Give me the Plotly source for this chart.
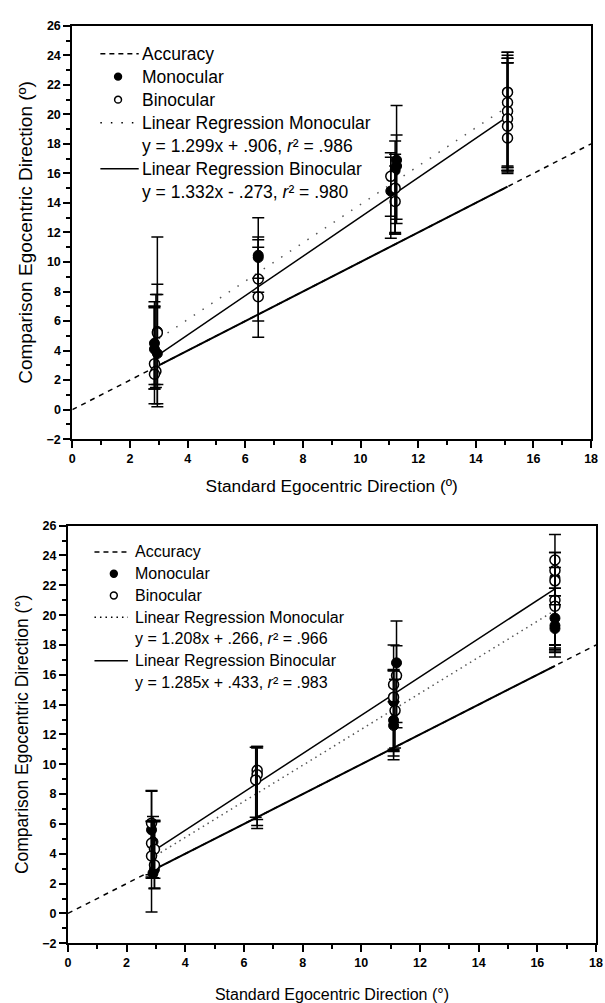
import plotly.graph_objects as go

W, H = 605, 1003

# ---------------- data: top panel ----------------
top_mono_x = [2.95, 2.85, 2.85, 2.95, 6.45, 6.45, 11.25, 11.25, 11.2, 11.05, 15.1, 15.1]
top_mono_y = [5.3, 4.5, 4.1, 3.8, 10.45, 10.3, 16.9, 16.5, 16.2, 14.8, 21.5, 20.2]
top_mono_err_plus = [3.2, 2.8, 2.9, 4.0, 2.55, 1.4, 3.7, 2.1, 2.0, 2.6, 2.7, 3.6]
top_mono_err_minus = [3.6, 3.1, 2.7, 3.4, 2.5, 1.4, 4.0, 3.9, 4.2, 3.2, 5.4, 3.8]

top_bino_x = [2.95, 2.85, 2.9, 2.85, 6.45, 6.45, 11.05, 11.2, 11.2, 15.1, 15.1, 15.1, 15.1, 15.1, 15.1]
top_bino_y = [5.2, 3.1, 2.6, 2.4, 8.85, 7.65, 15.8, 15.0, 14.1, 21.5, 20.8, 20.2, 19.7, 19.2, 18.4]
top_bino_err_plus = [6.5, 3.8, 5.2, 4.6, 2.65, 3.35, 1.3, 2.3, 2.4, 2.7, 3.2, 3.6, 3.8, 4.3, 5.1]
top_bino_err_minus = [5.0, 1.4, 1.1, 2.0, 2.85, 2.75, 2.7, 3.1, 2.2, 5.5, 4.6, 3.7, 3.5, 3.0, 2.0]

top_mono_slope, top_mono_intercept = 1.299, 0.906
top_bino_slope, top_bino_intercept = 1.332, -0.273
top_fit_x = [3.0, 15.1]
top_eq_mono = "y = 1.299x + .906, <i>r</i>² = .986"
top_eq_bino = "y = 1.332x - .273, <i>r</i>² = .980"

# ---------------- data: bottom panel ----------------
bot_mono_x = [2.85, 2.9, 2.95, 2.9, 6.45, 11.2, 11.1, 11.1, 11.1, 16.6, 16.6, 16.6, 16.6]
bot_mono_y = [5.6, 4.8, 2.95, 2.7, 9.4, 16.8, 14.2, 12.95, 12.6, 22.5, 19.8, 19.3, 19.1]
bot_mono_err_plus = [2.6, 1.7, 3.3, 3.5, 1.8, 2.8, 3.8, 3.3, 1.6, 1.7, 1.5, 2.0, 1.6]
bot_mono_err_minus = [5.5, 2.4, 1.3, 0.3, 3.5, 4.0, 3.9, 2.4, 1.6, 4.5, 2.2, 1.3, 1.6]

bot_bino_x = [2.85, 2.85, 2.95, 2.85, 2.95, 6.45, 6.45, 6.4, 11.2, 11.1, 11.1, 11.15,
              16.6, 16.6, 16.6, 16.6, 16.6]
bot_bino_y = [6.05, 4.7, 4.3, 3.85, 3.25, 9.6, 9.3, 8.95, 15.95, 15.35, 14.5, 13.6,
              23.7, 23.0, 22.3, 21.0, 20.6]
bot_bino_err_plus = [2.2, 1.5, 1.9, 2.3, 2.9, 1.6, 1.8, 2.2, 2.0, 1.0, 1.8, 2.1,
                     1.7, 1.2, 0.9, 0.8, 1.2]
bot_bino_err_minus = [3.6, 2.1, 2.6, 1.5, 0.9, 3.9, 3.0, 2.5, 3.5, 4.5, 3.6, 2.5,
                      6.5, 5.3, 4.5, 3.0, 2.6]

bot_mono_slope, bot_mono_intercept = 1.208, 0.266
bot_bino_slope, bot_bino_intercept = 1.285, 0.433
bot_fit_x = [3.0, 16.6]
bot_eq_mono = "y = 1.208x + .266, <i>r</i>² = .966"
bot_eq_bino = "y = 1.285x + .433, <i>r</i>² = .983"

accuracy_x = [0, 18]
x_range = [0, 18]
y_range = [-2, 26]

FONT = "Liberation Sans, Arial, sans-serif"

fig = go.Figure()


def add_panel(xa, ya, mono_x, mono_y, mp, mm, bino_x, bino_y, bp, bm,
              ms, mi, bs, bi, fit_x, dot_dash):
    # accuracy (dashed, full range)
    fig.add_trace(go.Scatter(x=accuracy_x, y=accuracy_x, mode="lines",
                             line=dict(color="black", width=1.5, dash="5px,5px"),
                             xaxis=xa, yaxis=ya, showlegend=False, hoverinfo="skip"))
    # accuracy solid segment over data range
    fig.add_trace(go.Scatter(x=fit_x, y=fit_x, mode="lines",
                             line=dict(color="black", width=2),
                             xaxis=xa, yaxis=ya, showlegend=False, hoverinfo="skip"))
    # regression monocular (dotted)
    fig.add_trace(go.Scatter(x=fit_x, y=[ms * v + mi for v in fit_x], mode="lines",
                             line=dict(color="#555555", width=1.5, dash=dot_dash),
                             xaxis=xa, yaxis=ya, showlegend=False, hoverinfo="skip"))
    # regression binocular (solid)
    fig.add_trace(go.Scatter(x=fit_x, y=[bs * v + bi for v in fit_x], mode="lines",
                             line=dict(color="black", width=1.5),
                             xaxis=xa, yaxis=ya, showlegend=False, hoverinfo="skip"))
    # monocular markers
    fig.add_trace(go.Scatter(x=mono_x, y=mono_y, mode="markers",
                             marker=dict(symbol="circle", size=10, color="black",
                                         line=dict(color="black", width=1)),
                             xaxis=xa, yaxis=ya, showlegend=False))
    # binocular markers
    fig.add_trace(go.Scatter(x=bino_x, y=bino_y, mode="markers",
                             marker=dict(symbol="circle", size=10, color="white",
                                         line=dict(color="black", width=1.5)),
                             xaxis=xa, yaxis=ya, showlegend=False))
    # error bars drawn on top
    for xs, ys, p, m in ((mono_x, mono_y, mp, mm), (bino_x, bino_y, bp, bm)):
        fig.add_trace(go.Scatter(x=xs, y=ys, mode="markers",
                                 marker=dict(size=2, opacity=0),
                                 error_y=dict(type="data", symmetric=False, array=p,
                                              arrayminus=m, color="black",
                                              thickness=1.5, width=6),
                                 xaxis=xa, yaxis=ya, showlegend=False, hoverinfo="skip"))


add_panel("x", "y", top_mono_x, top_mono_y, top_mono_err_plus, top_mono_err_minus,
          top_bino_x, top_bino_y, top_bino_err_plus, top_bino_err_minus,
          top_mono_slope, top_mono_intercept, top_bino_slope, top_bino_intercept,
          top_fit_x, "1.5px,9px")
add_panel("x2", "y2", bot_mono_x, bot_mono_y, bot_mono_err_plus, bot_mono_err_minus,
          bot_bino_x, bot_bino_y, bot_bino_err_plus, bot_bino_err_minus,
          bot_mono_slope, bot_mono_intercept, bot_bino_slope, bot_bino_intercept,
          bot_fit_x, "1.5px,4px")


def px2x(px):
    return px / W


def px2y(py):
    return 1 - py / H


def axis_common(title, title_size, standoff):
    return dict(
        showline=True, linewidth=2, linecolor="black", mirror=True,
        showgrid=False, zeroline=False,
        ticks="outside", ticklen=7, tickwidth=1.5, tickcolor="black",
        minor=dict(ticks="outside", ticklen=4, tickwidth=1.5, dtick=1, tickcolor="black"),
        dtick=2, tick0=0,
        tickfont=dict(family=FONT, size=12.5, color="black", weight="bold"),
        title=dict(text=title, font=dict(family=FONT, size=title_size, color="black"),
                   standoff=standoff),
    )


fig.update_layout(
    width=W, height=H,
    margin=dict(l=0, r=0, t=0, b=0),
    paper_bgcolor="white", plot_bgcolor="white",
    showlegend=False,
    xaxis=dict(domain=[px2x(70.5), px2x(598)], range=x_range, anchor="y",
               **axis_common("Standard Egocentric Direction (º)", 17.3, 15)),
    yaxis=dict(domain=[px2y(438.3), px2y(19)], range=y_range, anchor="x",
               **axis_common("Comparison Egocentric Direction (º)", 19, 9)),
    xaxis2=dict(domain=[px2x(66), px2x(603)], range=x_range, anchor="y2",
                **axis_common("Standard Egocentric Direction (°)", 16, 22)),
    yaxis2=dict(domain=[px2y(949.5), px2y(526)], range=y_range, anchor="x2",
                **axis_common("Comparison Egocentric Direction (°)", 17.5, 9)),
)

# ---------------- legends (drawn in each panel, top-left) ----------------
legend_items_top = [("dash", "Accuracy"), ("filled", "Monocular"), ("open", "Binocular"),
                    ("dot", "Linear Regression Monocular"), (None, top_eq_mono),
                    ("solid", "Linear Regression Binocular"), (None, top_eq_bino)]
legend_items_bot = [("dash", "Accuracy"), ("filled", "Monocular"), ("open", "Binocular"),
                    ("dot", "Linear Regression Monocular"), (None, bot_eq_mono),
                    ("solid", "Linear Regression Binocular"), (None, bot_eq_bino)]


def draw_legend(items, y0, step, text_x, sym_x0, sym_x1, mark_x, fsize, dot_dash):
    for i, (kind, label) in enumerate(items):
        cy = y0 + i * step
        fig.add_annotation(x=px2x(text_x), y=px2y(cy), xref="paper", yref="paper",
                           text=label, showarrow=False, xanchor="left", yanchor="middle",
                           font=dict(family=FONT, size=fsize, color="black"),
                           borderpad=0)
        if kind in ("dash", "dot", "solid"):
            dash = {"dash": "5px,4px", "dot": dot_dash, "solid": "solid"}[kind]
            fig.add_shape(type="line", xref="paper", yref="paper",
                          x0=px2x(sym_x0), x1=px2x(sym_x1), y0=px2y(cy), y1=px2y(cy),
                          line=dict(color="black", width=1.5, dash=dash))
        elif kind in ("filled", "open"):
            r = 3.5
            fig.add_shape(type="circle", xref="paper", yref="paper",
                          x0=px2x(mark_x - r), x1=px2x(mark_x + r),
                          y0=px2y(cy + r), y1=px2y(cy - r),
                          fillcolor="black" if kind == "filled" else "white",
                          line=dict(color="black", width=1.5))


draw_legend(legend_items_top, 47.3, 23.33, 140, 99, 138, 117, 17.5, "1.5px,9px")
draw_legend(legend_items_bot, 552.7, 22.05, 133, 93, 127, 112.7, 16, "1.5px,4px")

fig.write_html("out.html")
